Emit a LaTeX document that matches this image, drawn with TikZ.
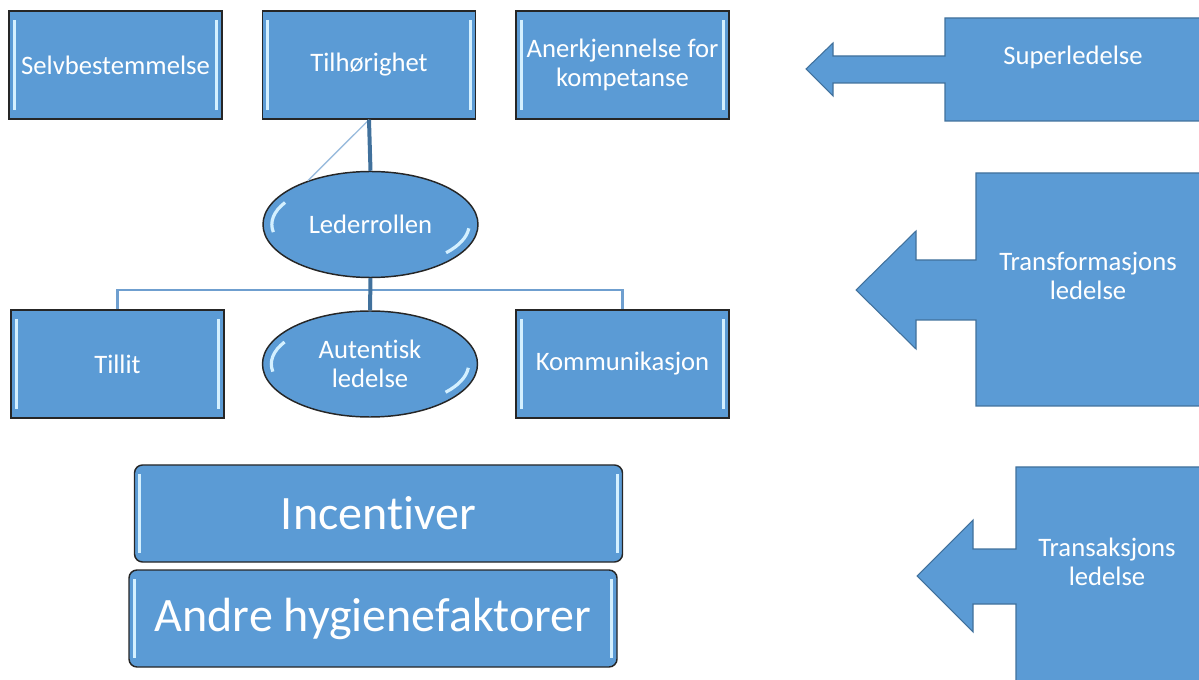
\documentclass[tikz,border=0pt]{standalone}
\usepackage{fontspec}
\setmainfont{Carlito}[Ligatures=NoCommon]
\usepackage{tikz}
\usetikzlibrary{shapes.geometric,calc}
\definecolor{officeBlue}{HTML}{5B9BD5}
\definecolor{officeLine}{HTML}{41719C}
\definecolor{barBlue}{HTML}{6F9FCF}
\definecolor{glint}{HTML}{D4F0FF}

\begin{document}
\begin{tikzpicture}[x=0.75pt,y=-0.75pt,font=\fontsize{20}{21.5}\selectfont,
  box/.style={draw=black!85,line width=1.1pt,fill=officeBlue,text=white,align=center,
    minimum width=159.75pt,minimum height=81pt,inner sep=1pt,
    path picture={
      \draw[glint,line width=2.4pt] ([shift={(4pt,-7pt)}]path picture bounding box.north west) -- ([shift={(4pt,7pt)}]path picture bounding box.south west);
      \draw[glint,line width=2.4pt] ([shift={(-4pt,-7pt)}]path picture bounding box.north east) -- ([shift={(-4pt,7pt)}]path picture bounding box.south east);}},
  bigbox/.style={box,rounded corners=6pt,minimum width=366pt,minimum height=72.75pt,
    font=\fontsize{36}{40}\selectfont},
  oval/.style={ellipse,draw=black!85,line width=1.1pt,fill=officeBlue,text=white,align=center,
    minimum width=161.25pt,minimum height=79.5pt,inner sep=0pt,
    path picture={
      \draw[glint,line width=2.4pt] ([shift={(150:74pt and 33pt)}]path picture bounding box.center) arc[start angle=150,end angle=190,x radius=74pt,y radius=33pt];
      \draw[glint,line width=2.4pt] ([shift={(-40:74pt and 33pt)}]path picture bounding box.center) arc[start angle=-40,end angle=-5,x radius=74pt,y radius=33pt];}},
  trunk/.style={officeLine,line width=3pt},
  branch/.style={barBlue,line width=1.6pt},
  callout/.style={fill=officeBlue,draw=officeLine,line width=0.8pt},
  calltext/.style={text=white,align=center}]
\useasboundingbox (0,0) rectangle (1199,680);
% top row
\node[box] (selv) at (115.5,65) {Selvbestemmelse};
\node[box] (tilh) at (369,65) {Tilhørighet};
\node[box] (aner) at (622.5,65) {Anerkjennelse for\\kompetanse};
% leader role
\node[oval] (leder) at (370.5,224.5) {Lederrollen};
\draw[barBlue!70,line width=1pt] (tilh.south) -- (leder.145);
\draw[trunk] (tilh.south) -- (leder.north);
% bottom row
\node[box] (tillit) at (117.5,364) {Tillit};
\node[oval] (autent) at (370,364) {Autentisk\\ledelse};
\node[box] (komm) at (622.5,364) {Kommunikasjon};
\draw[branch] (tillit.north) -- ++(0,-19) -| (komm.north);
\draw[trunk] (leder.south) -- (autent.north);
% hygiene factors
\node[bigbox] (incent) at (378.5,513.5) {Incentiver};
\node[bigbox] (andre) at (373,618.5) {Andre hygienefaktorer};
% leadership styles
\draw[callout] (1210,18) -- (945,18) -- (945,56) -- (833,56) -- (833,43) -- (806,69)
  -- (833,96) -- (833,83) -- (945,83) -- (945,121) -- (1210,121);
\node[calltext] (super) at (1073,57) {Superledelse};
\draw[callout] (1210,173) -- (976,173) -- (976,260) -- (916,260) -- (916,231) -- (856,290)
  -- (916,349) -- (916,320) -- (976,320) -- (976,406) -- (1210,406);
\node[calltext] (transf) at (1088,276) {Transformasjons\\ledelse};
\draw[callout] (1210,467) -- (1016,467) -- (1016,549) -- (973,549) -- (973,520) -- (917,576)
  -- (973,632) -- (973,604) -- (1016,604) -- (1016,690) -- (1210,690);
\node[calltext] (transa) at (1107,562) {Transaksjons\\ledelse};
\end{tikzpicture}
\end{document}
